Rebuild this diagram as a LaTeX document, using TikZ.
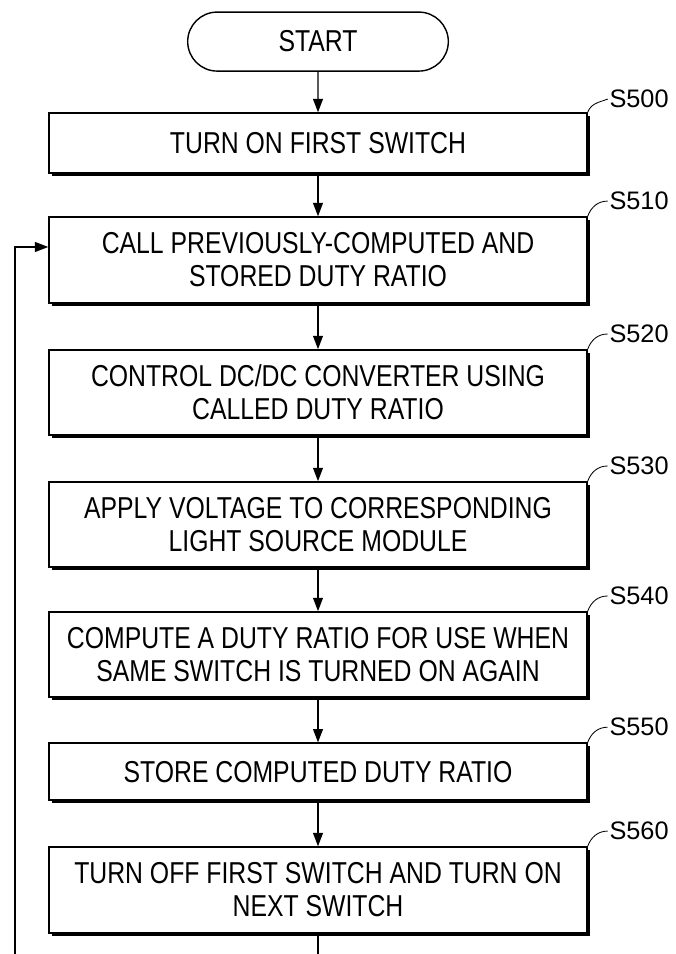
\documentclass[tikz,border=0pt]{standalone}
\usepackage{fontspec}
\setmainfont{Liberation Sans}[FakeStretch=0.82]
\newfontfamily\labelfont{Liberation Sans}
\usetikzlibrary{shapes.misc, shadows, calc, arrows.meta}

\begin{document}
\begin{tikzpicture}[
	>={Triangle[length=9.5pt,width=7pt]},
	line width=1pt,
	% Styles for the flowchart blocks
	terminal/.style={draw, rounded rectangle, minimum width=6.75cm, minimum height=1.475cm, font=\fontsize{21.5}{23.5}\selectfont},
	stepbox/.style={draw, fill=white, minimum width=13.45cm, align=center, font=\fontsize{21.5}{23.5}\selectfont,
		drop shadow={shadow xshift=0.07cm, shadow yshift=-0.07cm, opacity=1, fill=black}},
	steplabel/.style={anchor=west, inner sep=1pt, font=\labelfont\fontsize{18}{20}\selectfont},
	leader/.style={line width=0.6pt},
	flowarrow/.style={->}
	]
	
	\useasboundingbox (0,0) rectangle (16.9,23.85);
	\clip (0,0) rectangle (16.9,23.85);
	
	% ==========================================
	% 1. START AND STEP BLOCKS
	% ==========================================
	\node[terminal] (start) at (7.95, 22.81) {START};
	
	\node[stepbox, minimum height=1.5cm] (s500) at (7.95, 20.275) {TURN ON FIRST SWITCH};
	\node[stepbox, minimum height=2.15cm] (s510) at (7.95, 17.35) {CALL PREVIOUSLY-COMPUTED AND\\STORED DUTY RATIO};
	\node[stepbox, minimum height=2.125cm] (s520) at (7.95, 14.04) {CONTROL DC/DC CONVERTER USING\\CALLED DUTY RATIO};
	\node[stepbox, minimum height=2.125cm] (s530) at (7.95, 10.74) {APPLY VOLTAGE TO CORRESPONDING\\LIGHT SOURCE MODULE};
	\node[stepbox, minimum height=2.125cm] (s540) at (7.95, 7.49) {COMPUTE A DUTY RATIO FOR USE WHEN\\SAME SWITCH IS TURNED ON AGAIN};
	\node[stepbox, minimum height=1.425cm] (s550) at (7.95, 4.56) {STORE COMPUTED DUTY RATIO};
	\node[stepbox, minimum height=2.15cm] (s560) at (7.95, 1.6) {TURN OFF FIRST SWITCH AND TURN ON\\NEXT SWITCH};
	
	% ==========================================
	% 2. STEP LABELS
	% ==========================================
	\draw[leader] (s500.north east) to[out=70, in=200] ++(0.5,0.33) node[steplabel] {S500};
	\draw[leader] (s510.north east) to[out=70, in=180] ++(0.5,0.38) node[steplabel] {S510};
	\draw[leader] (s520.north east) to[out=70, in=180] ++(0.5,0.38) node[steplabel] {S520};
	\draw[leader] (s530.north east) to[out=70, in=180] ++(0.5,0.38) node[steplabel] {S530};
	\draw[leader] (s540.north east) to[out=70, in=180] ++(0.5,0.38) node[steplabel] {S540};
	\draw[leader] (s550.north east) to[out=70, in=180] ++(0.5,0.38) node[steplabel] {S550};
	\draw[leader] (s560.north east) to[out=70, in=180] ++(0.5,0.38) node[steplabel] {S560};
	
	% ==========================================
	% 3. FLOW ARROWS
	% ==========================================
	\draw[flowarrow] (start) -- (s500);
	\draw[flowarrow] (s500) -- (s510);
	\draw[flowarrow] (s510) -- (s520);
	\draw[flowarrow] (s520) -- (s530);
	\draw[flowarrow] (s530) -- (s540);
	\draw[flowarrow] (s540) -- (s550);
	\draw[flowarrow] (s550) -- (s560);
	
	% Loop back to the call step (runs below the visible area)
	\coordinate (loopcorner) at (0.375, -0.6);
	\draw[flowarrow] (s560.south) |- (loopcorner) |- ($(s510.west)+(0,0.325)$);
	
\end{tikzpicture}
\end{document}
